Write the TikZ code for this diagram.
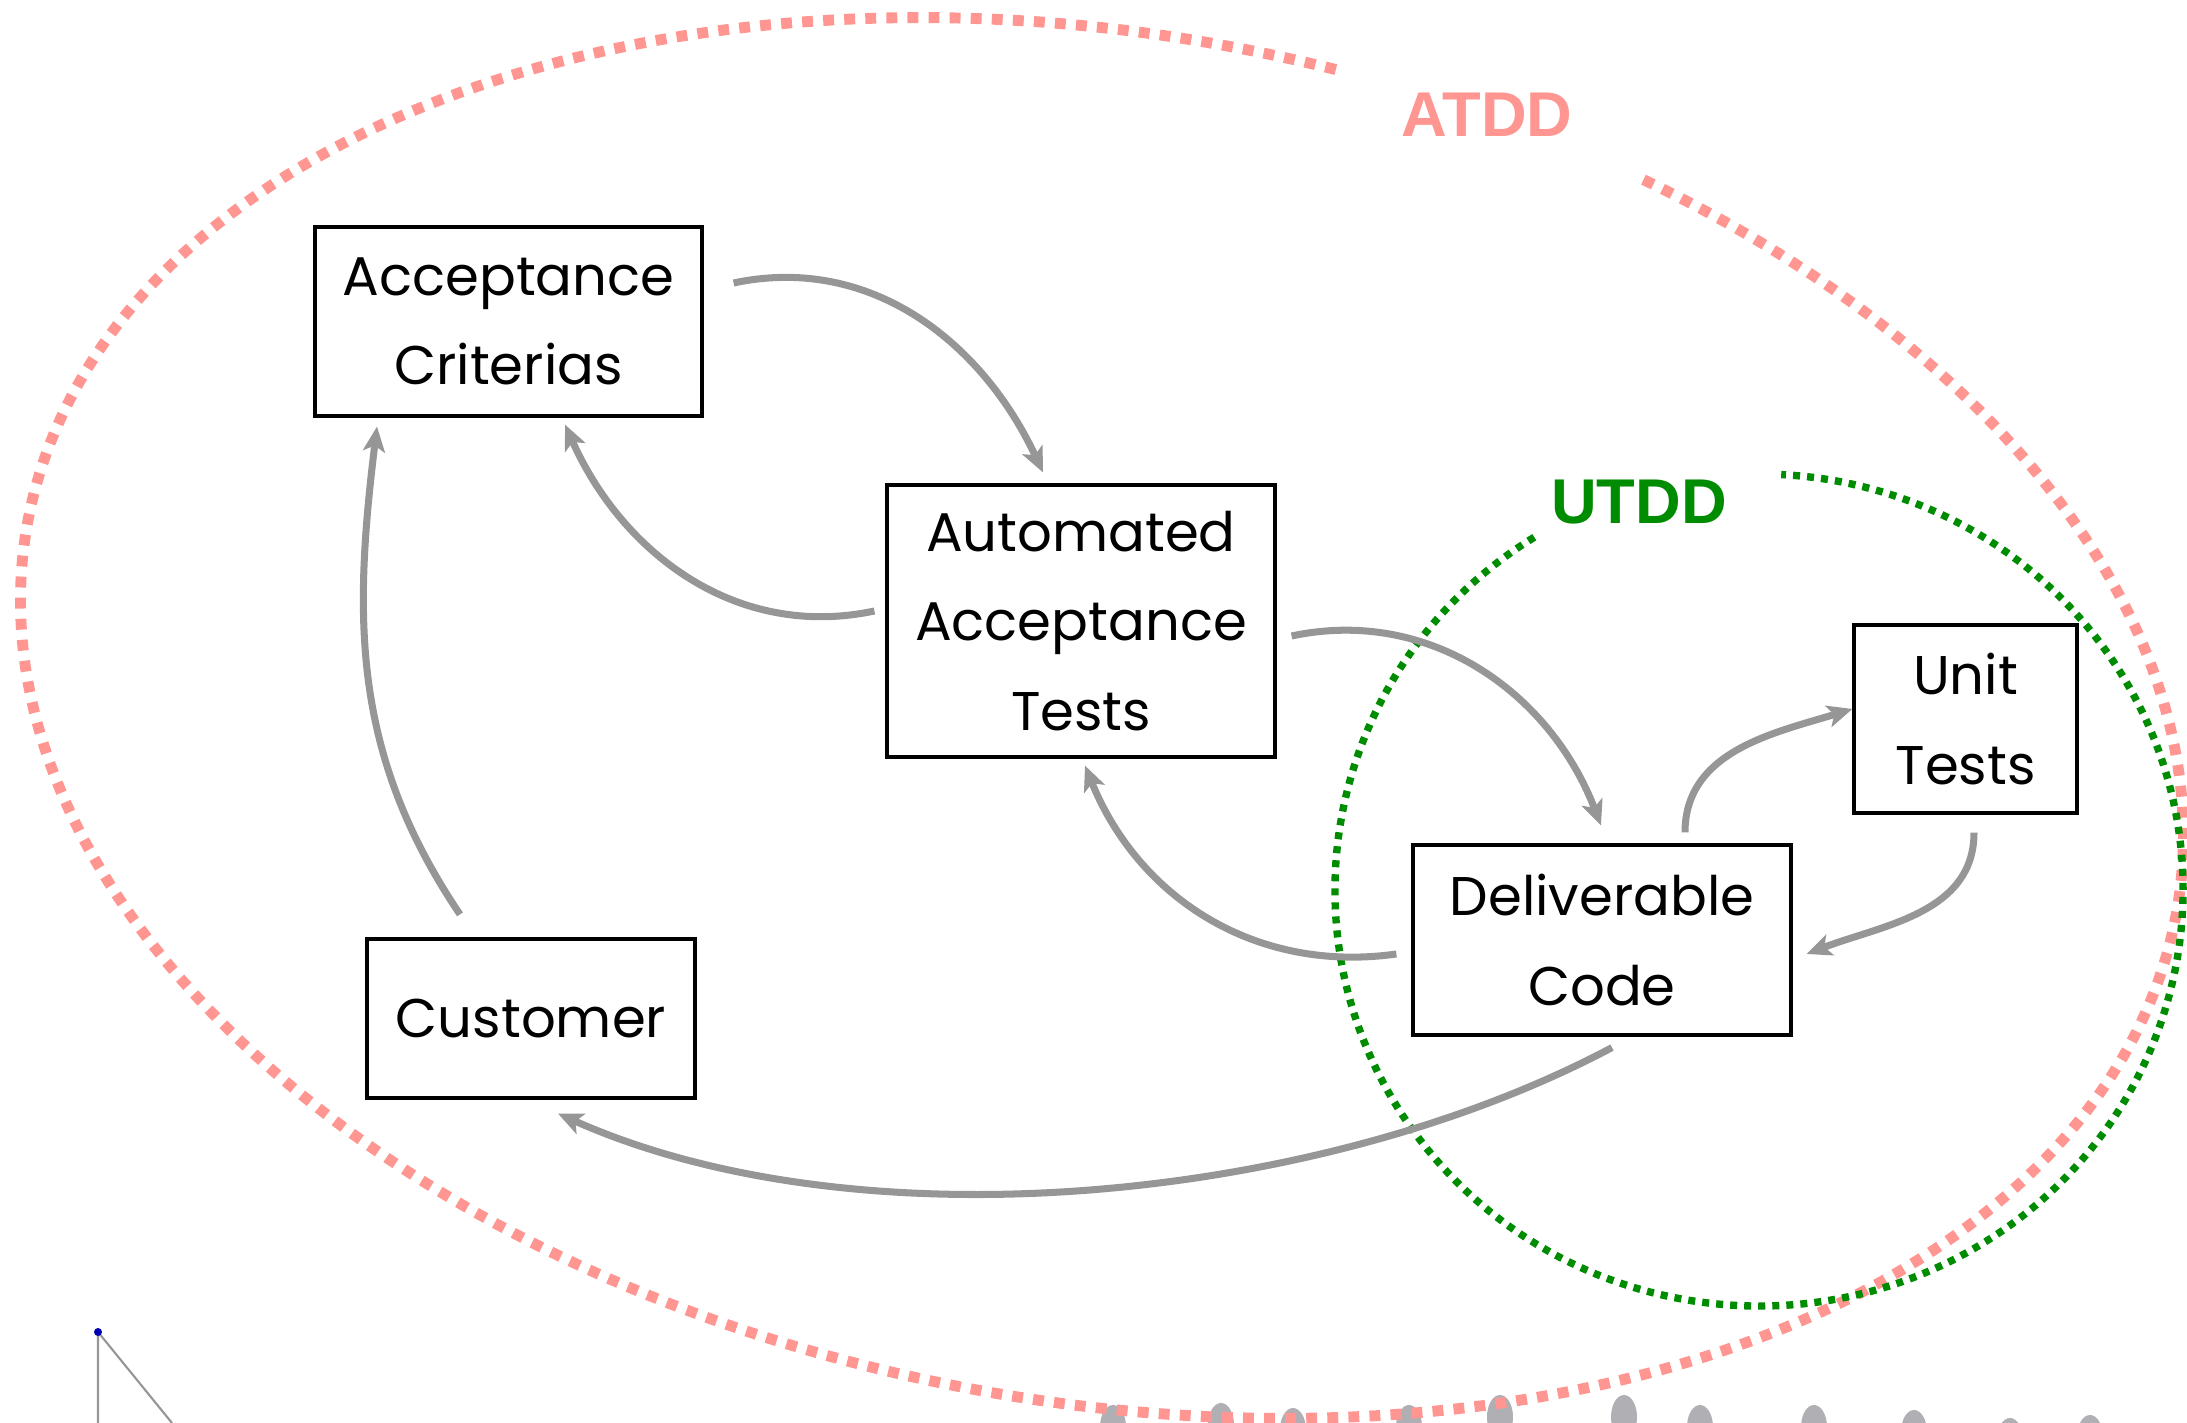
\documentclass[tikz,border=0pt]{standalone}
\usepackage{fontspec}
\setmainfont{Poppins}
\newfontfamily\tagfont{Liberation Sans}
\usetikzlibrary{arrows.meta}
\definecolor{atddred}{RGB}{255,150,145}
\definecolor{utddgreen}{RGB}{0,140,0}
\definecolor{flowgray}{RGB}{150,150,150}
\definecolor{blobgray}{RGB}{175,175,180}

\begin{document}
\begin{tikzpicture}[
    box/.style={draw, line width=0.9pt, align=center, inner sep=0pt,
      font=\fontsize{15.5}{25.5}\selectfont},
    flow/.style={draw=flowgray, line width=2pt,
      -{Stealth[length=0.25cm,width=0.22cm,inset=0.06cm]}},
    tag/.style={font=\tagfont\bfseries\fontsize{18}{18}\selectfont},
    atddline/.style={draw=atddred, line width=3.1pt, dash pattern=on 3.1pt off 2.9pt},
    utddline/.style={draw=utddgreen, line width=2.1pt, dash pattern=on 2pt off 2pt}]
  \useasboundingbox (0,0) rectangle (21.87,14.23);

  % leftovers along the bottom edge
  \foreach \x/\y in {11.13/0.18,12.21/0.20,12.93/0.15,14.09/0.18,15.00/0.28,
      16.24/0.28,17.00/0.18,18.14/0.18,19.14/0.13,20.10/0.05,20.90/0.08}
    \fill[blobgray] (\x,\y-0.22) ellipse (0.13 and 0.22);
  \coordinate (pin) at (0.98,0.91);
  \draw[flowgray, line width=0.6pt] (0.98,0) -- (pin) -- (1.72,0);
  \fill[blue!70!black] (pin) circle (0.04);

  % the two cycles
  \begin{scope}[shift={(11.02,7.05)}, rotate=-10.3]
    \draw[atddline] (84:10.92 and 6.835)
      arc[start angle=84, end angle=426.5, x radius=10.92, y radius=6.835];
  \end{scope}
  \draw[utddline] (17.59,5.33) ++(122:4.24 and 4.16)
    arc[start angle=122, end angle=447, x radius=4.24, y radius=4.16];
  \node[tag, text=atddred] (atdd) at (14.87,13.08) {ATDD};
  \node[tag, text=utddgreen] (utdd) at (16.39,9.21) {UTDD};

  % boxes
  \node[box, minimum width=3.87cm, minimum height=1.89cm] (ac) at (5.085,11.015) {Acceptance\\Criterias};
  \node[box, minimum width=3.88cm, minimum height=2.72cm] (aat) at (10.81,8.02) {Automated\\Acceptance\\Tests};
  \node[box, minimum width=2.23cm, minimum height=1.88cm] (ut) at (19.655,7.04) {Unit\\Tests};
  \node[box, minimum width=3.78cm, minimum height=1.90cm] (dc) at (16.02,4.83) {Deliverable\\Code};
  \node[box, minimum width=3.28cm, minimum height=1.59cm] (cust) at (5.31,4.045) {Customer};

  % arrows
  \draw[flow] ([shift={(0.30,0.385)}]ac.east) to[out=12,in=115] ([shift={(-0.38,0.11)}]aat.north);
  \draw[flow] ([shift={(-0.11,0.10)}]aat.west) to[out=192,in=-66] ([shift={(0.565,-0.07)}]ac.south);
  \draw[flow] ([shift={(-0.71,0.23)}]cust.north) to[out=124,in=-97] ([shift={(-1.315,-0.09)}]ac.south);
  \draw[flow] ([shift={(0.15,-0.15)}]aat.east) to[out=12,in=111] ([shift={(-0.01,0.18)}]dc.north);
  \draw[flow] ([shift={(-0.15,-0.14)}]dc.west) to[out=188,in=-68] ([shift={(0.04,-0.07)}]aat.south);
  \draw[flow] ([shift={(0.83,0.11)}]dc.north) to[out=90,in=197] ([shift={(0,0.10)}]ut.west);
  \draw[flow] ([shift={(0.085,-0.18)}]ut.south) to[out=-90,in=21] ([shift={(0.14,-0.14)}]dc.east);
  \draw[flow] ([shift={(0.10,-0.11)}]dc.south) to[out=208,in=-24,looseness=0.8] ([shift={(0.27,-0.14)}]cust.south);
\end{tikzpicture}
\end{document}
